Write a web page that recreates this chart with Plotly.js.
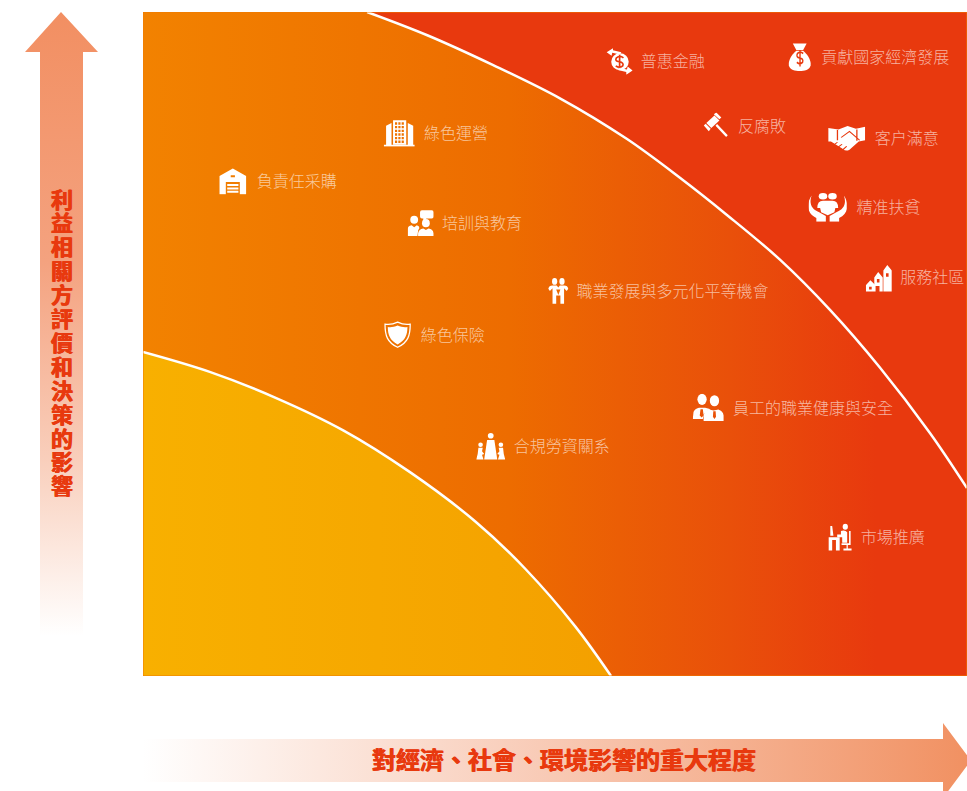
<!DOCTYPE html>
<html lang="zh-Hant">
<head>
<meta charset="utf-8">
<title>重大性矩陣</title>
<script src="https://cdn.plot.ly/plotly-3.0.1.min.js"></script>
<style>html,body{margin:0;padding:0;background:#fff;overflow:hidden}#chart{width:967px;height:791px}</style>
</head>
<body>
<div id="chart"></div>
<script>
// Materiality matrix: topics placed by impact (x) and stakeholder influence (y), both 0-100.
const topics = ['負責任采購','綠色運營','培訓與教育','職業發展與多元化平等機會','綠色保險','合規勞資關系',
  '員工的職業健康與安全','市場推廣','普惠金融','貢獻國家經濟發展','反腐敗','客户滿意','精准扶貧','服務社區'];
const topicX = [13.8,34.1,36.3,52.6,33.7,45.0,71.6,87.1,60.4,82.3,72.2,88.8,86.6,91.9];
const topicY = [74.2,81.5,67.9,57.7,51.1,34.3,40.1,20.6,92.3,92.9,82.5,80.7,70.3,59.8];
const iconKeys = ['warehouse','towers','talk','family','shield','meeting','staff','desk','coin','bag','gavel','shake','care','homes'];
const iconX = [10.9,31.1,33.7,50.4,30.9,42.2,68.6,84.7,57.8,79.7,69.5,85.4,83.1,89.3];
const iconY = [74.5,81.8,68.2,58.0,51.4,34.6,40.4,20.9,92.6,93.2,83.0,81.0,70.6,59.9];

// Zone boundaries
const innerX = [0,8.1,16.1,24.3,32.4,40.4,46.5,52.5,56.8];
const innerY = [48.8,45.8,41.9,37.0,30.7,23.2,16.0,7.4,0];
const outerX = [27.2,34.5,42.5,50.6,58.7,65.2,70.9,77.3,83.4,89.4,95.5,100];
const outerY = [100,96.5,92.0,87.0,80.9,75.0,69.4,62.7,55.1,46.5,36.6,28.3];

const xTitle = '對經濟、社會、環境影響的重大程度';
const yTitle = '利益相關方評價和決策的影響';

// Page geometry of the plot area
const PAGE = {w: 967, h: 791};
const PLOT = {left: 143, right: 967, top: 12, bottom: 676};
const unitX = (PLOT.right - PLOT.left) / 100, unitY = (PLOT.bottom - PLOT.top) / 100;

const disc = (x, y, r) => `M${x - r} ${y}a${r} ${r} 0 1 0 ${2 * r} 0a${r} ${r} 0 1 0 ${-2 * r} 0Z`;
const oval = (x, y, rx, ry) => `M${x - rx} ${y}a${rx} ${ry} 0 1 0 ${2 * rx} 0a${rx} ${ry} 0 1 0 ${-2 * rx} 0Z`;
const P = (d, extra = '') => `<path d="${d}" ${extra}/>`;
const EO = 'fill-rule="evenodd"';
const dollar = c => P('M26 15Q21 11 16 15Q13 20 20 21Q27 22 25 27Q20 31 15 27M20.500 10V33', `fill="none" stroke="${c}" stroke-width="2.4"`);

let towerGrid = '';
for (let r = 0; r < 6; r++) for (let c = 0; c < 3; c++) towerGrid += `M${14.500 + c * 4.300} ${5 + r * 5.200}h2.800v3.400h-2.800Z`;

// White pictograms, each on a 40x40 canvas with its own pixel box
const ICONS = {
  warehouse: {w: 28, h: 27, body:
    P('M1 12L20 1 39 12V39H1ZM10 21H30V39H10ZM17 11H23V14H17Z M12 24H28V27H12ZM12 29H28V32H12ZM12 34H28V37H12Z', EO)},
  towers: {w: 31, h: 28, body:
    P('M12 2H29V37H12Z' + towerGrid, EO) + P('M3 10L10 6V37H3ZM31 6L38 10V37H31ZM0 37H40V39.500H0Z')},
  talk: {w: 26, h: 27, body:
    P(disc(10, 15, 6)) + P('M0 39V29Q0 24 6 23L10 26 14 23Q18 24 18 27L16 31 15 39Z') +
    P(disc(28, 20, 6)) + P('M16 39V35Q17 29 24 28L28 30 32 28Q39 29 40 35V39Z') +
    P('M22 1H37Q40 1 40 4V10Q40 13 37 13H29L24 17V13H22Q19 13 19 10V4Q19 1 22 1Z')},
  family: {w: 21, h: 27, body:
    P(disc(13, 6, 5)) + P(disc(27, 6, 5)) +
    P('M9 12H17L20 15 23 12H31Q38 12 39 17L36 20 31 16V39H24V27H16V39H9V16L4 20 1 17Q2 12 9 12Z') +
    P('M16 18H24L20 26Z', 'fill="#ec6a00"')},
  shield: {w: 28, h: 28, body:
    P('M20 2C26 5 32 6 38 5C38 21 35 31 20 38C5 31 2 21 2 5C8 6 14 5 20 2Z', 'fill="none" stroke="#fff" stroke-width="1.800"') +
    P('M20 7C25 9 30 10 34 9C34 20 31 28 20 34C9 28 6 20 6 9C10 10 15 9 20 7Z')},
  meeting: {w: 29, h: 28, body:
    P(disc(20, 5, 4)) + P('M15 11H25L29 39H11Z') +
    P(disc(6, 18, 3.200)) + P('M3 22H9L8 27 11 31 8 32 10 39H0L2 31Z') +
    P(disc(34, 18, 3.200)) + P('M31 22H37L38 31 40 39H30L32 32 29 31 32 27Z')},
  staff: {w: 31, h: 28, body:
    P(oval(12, 8, 6, 8)) + P('M0 36L1 26Q2 22 8 20L16 20Q20 21 23 22Q16 25 14 30L13 36ZM10 22H13L14 31 11.500 34 9 31Z', EO) +
    P(oval(28, 10, 6, 8)) + P('M14 39V31Q15 25 21 22.500L27 24 33 22.500Q39 25 40 31V39ZM26.500 25H29.500L30 33 28 36 26 33Z', EO)},
  desk: {w: 25, h: 28, body:
    P(disc(27, 5, 4.200)) + P('M3 4H6L8 18H3Z') + P('M0 20H18V39H12V24H6V39H0Z') +
    P('M20 11Q27 9 30 13V28H22V20H14V16H20Z') +
    P('M33 11H35.500V31H31V36H37V39H24V36H29V31H21V28.500H33Z')},
  coin: {w: 28, h: 27, body:
    P(disc(21, 21, 12.500)) + dollar('#e8390e') +
    P('M2 7L11 1 11 4 23 7 21 10 10 7.500 9 12Z') + P('M39 34L30 40 30 36 18 33 20 30 31 32.500 32 28Z')},
  bag: {w: 23, h: 29, body:
    P('M8 1H32L26 10H14Z') + P('M14 11H26C35 17 40 25 39 31C37 38 28 39 20 39C12 39 3 38 1 31C0 25 5 17 14 11Z') + dollar('#e8390e')},
  gavel: {w: 25, h: 25, body:
    P('M5 17L18 5 26 13 13 25Z') + P('M1 21L4 18 12 26 9 30Z') + P('M17 3L21 0 29 8 26 11Z') +
    P('M21 20L38 38', 'fill="none" stroke="#fff" stroke-width="3.600"')},
  shake: {w: 37, h: 27, body:
    P('M0 5L11 7 21 2 30 6 40 3V23L33 25 23 37Q19 40 16 36L3 25 0 25Z') +
    P('M10 8V23M31 7V24M14 19L23 10 34 23M7 29L10 26M11 33L15 29M16 37L20 32', 'fill="none" stroke="#e8390e" stroke-width="1.400"')},
  care: {w: 38, h: 29, body:
    P('M3 4C0 15 3 23 11 27L18 32V40H8V35C-3 28 -2 14 3 4Z') + P('M37 4C40 15 37 23 29 27L22 32V40H32V35C43 28 42 14 37 4Z') +
    P(disc(15, 5, 4.500)) + P(disc(25, 5, 4.500)) +
    P('M9 21Q9 11 15 11H25Q31 11 31 21H28L27 27 20 31 13 27 12 21Z')},
  homes: {w: 26, h: 28, body:
    P('M27 9L33 1 40 9V39H27ZM31 13H35V18H31Z', EO) + P('M13 19L19 11 26 19V39H21V31H13ZM17 21H21V26H17Z', EO) +
    P('M0 30L7 23 15 30V39H0ZM5 32H9V36H5Z', EO)}
};
const iconUri = ({w, h, body}) => 'data:image/svg+xml;base64,' + btoa(
  `<svg xmlns="http://www.w3.org/2000/svg" width="${w * 4}" height="${h * 4}" viewBox="0 0 40 40" preserveAspectRatio="none" fill="#fff">${body}</svg>`);

const CJK = '"Noto Sans CJK TC","Noto Sans CJK SC",sans-serif';
const RED = '#e8390e';
const THICKEN = '0.4px 0 0 #e8390e, -0.4px 0 0 #e8390e';
const hidden = {visible: false, fixedrange: true};
const divider = {color: '#fff', width: 2.5, shape: 'spline', smoothing: 1};

// Nested zones, outermost first
const zoneTraces = [
  {x: [0, 100, 100, 0], y: [0, 0, 100, 100], mode: 'none', fill: 'toself', fillcolor: RED, hoverinfo: 'skip'},
  {x: [0, ...outerX, 100, 0], y: [100, ...outerY, 0, 0], mode: 'none', fill: 'toself', hoverinfo: 'skip',
   fillgradient: {type: 'horizontal', start: 0, stop: 89,
     colorscale: [[0, '#f28200'], [0.5, '#ed6c00'], [0.8, '#e9500a'], [1, RED]]}},
  {x: [0, ...innerX, 0], y: [0, ...innerY, 0], mode: 'none', fill: 'toself', hoverinfo: 'skip',
   fillgradient: {type: 'horizontal', start: 0, stop: 57,
     colorscale: [[0, '#f8b000'], [1, '#f4a000']]}},
  {x: outerX, y: outerY, mode: 'lines', line: divider, hoverinfo: 'skip'},
  {x: innerX, y: innerY, mode: 'lines', line: divider, hoverinfo: 'skip'},
  {x: topicX, y: topicY, mode: 'text', text: topics, textposition: 'middle right', hoverinfo: 'text',
   textfont: {family: CJK, size: 16, color: 'rgba(255,255,255,0.62)', weight: 300}}
];

// Axis arrows and their captions live on a page-sized overlay
const onPage = {xaxis: 'x2', yaxis: 'y2', hoverinfo: 'skip'};
const arrowTraces = [
  {...onPage, x: [61, 98, 83, 83, 40, 40, 25, 61], y: [12, 52, 52, 636, 636, 52, 52, 12], mode: 'none', fill: 'toself',
   fillgradient: {type: 'vertical', start: 12, stop: 636,
     colorscale: [[0, '#f28f62'], [0.4, '#f4a27f'], [0.72, '#f9cfbc'], [1, '#ffffff']]}},
  {...onPage, x: [143, 943, 943, 971, 943, 943, 143, 143], y: [739, 739, 723, 760.5, 798, 782, 782, 739], mode: 'none', fill: 'toself',
   fillgradient: {type: 'horizontal', start: 143, stop: 967,
     colorscale: [[0, '#ffffff'], [0.5, '#f8c9b4'], [1, '#f19162']]}},
  {...onPage, x: [62], y: [338], mode: 'text', text: [yTitle], textposition: 'middle center',
   textfont: {family: CJK, size: 22, color: RED, weight: 700, shadow: THICKEN}},
  {...onPage, x: [564], y: [763], mode: 'text', text: [xTitle], textposition: 'middle center',
   textfont: {family: CJK, size: 24, color: RED, weight: 700, shadow: THICKEN}}
];

const layout = {
  width: PAGE.w, height: PAGE.h,
  margin: {l: 0, r: 0, t: 0, b: 0},
  paper_bgcolor: '#fff', plot_bgcolor: 'rgba(0,0,0,0)', showlegend: false,
  xaxis: {...hidden, range: [0, 100], domain: [PLOT.left / PAGE.w, PLOT.right / PAGE.w], anchor: 'y'},
  yaxis: {...hidden, range: [0, 100], domain: [1 - PLOT.bottom / PAGE.h, 1 - PLOT.top / PAGE.h], anchor: 'x'},
  xaxis2: {...hidden, range: [0, PAGE.w], domain: [0, 1], anchor: 'y2'},
  yaxis2: {...hidden, range: [PAGE.h, 0], domain: [0, 1], anchor: 'x2'},
  shapes: [{type: 'rect', xref: 'x', yref: 'y', x0: 0, x1: 100, y0: 0, y1: 100, line: {color: '#ef7d00', width: 1}}],
  images: iconKeys.map((key, i) => ({
    source: iconUri(ICONS[key]), xref: 'x', yref: 'y', x: iconX[i], y: iconY[i],
    sizex: ICONS[key].w / unitX, sizey: ICONS[key].h / unitY,
    xanchor: 'center', yanchor: 'middle', sizing: 'contain', layer: 'above'
  }))
};

Plotly.newPlot('chart', [...zoneTraces, ...arrowTraces], layout, {displayModeBar: false, responsive: false}).then(() => {
  // The influence caption reads top to bottom, upright, centred on its own anchor point
  const caption = [...document.querySelectorAll('#chart text')].find(t => t.textContent === yTitle);
  if (caption) {
    caption.removeAttribute('transform');
    caption.style.writingMode = 'vertical-rl';
    caption.style.letterSpacing = '1.9px';
    caption.style.textAnchor = 'middle';
  }
});
</script>
</body>
</html>
